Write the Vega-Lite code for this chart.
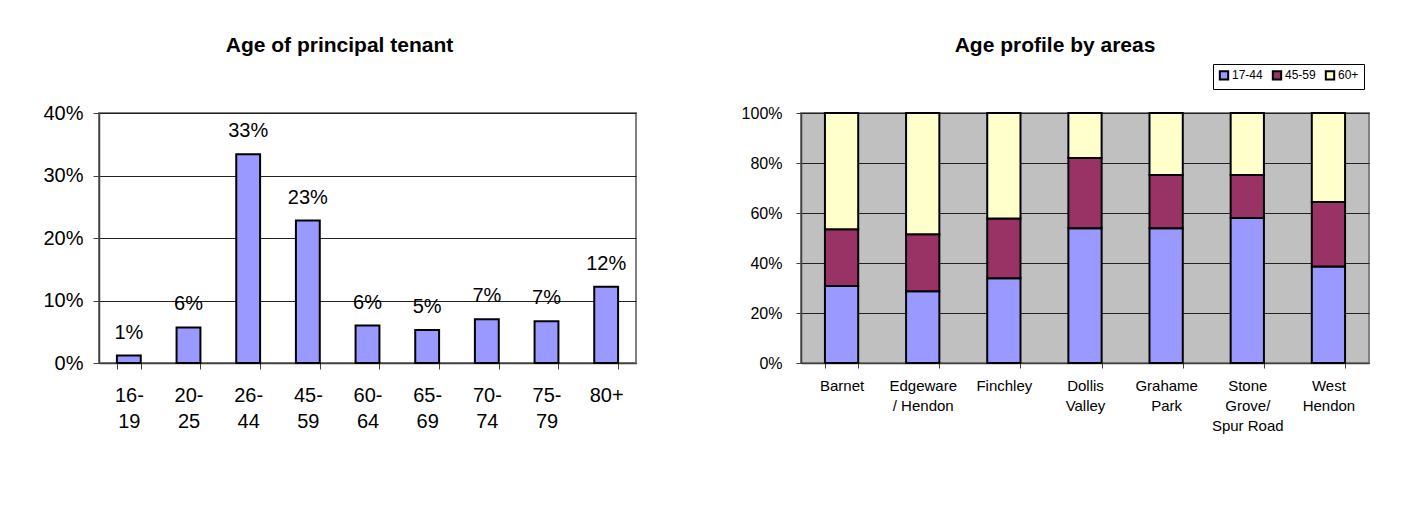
{
  "$schema": "https://vega.github.io/schema/vega-lite/v6.json",
  "background": "white",
  "padding": {"left": 41, "top": 33, "right": 5, "bottom": 5},
  "spacing": 165,
  "bounds": "flush",
  "resolve": {"scale": {"color": "independent"}, "legend": {"color": "independent"}},
  "config": {
    "font": "Liberation Sans",
    "axis": {"labelColor": "#000", "labelFont": "Liberation Sans", "title": null},
    "title": {"font": "Liberation Sans", "fontWeight": "bold", "color": "#000"}
  },
  "hconcat": [
    {
      "width": 537,
      "height": 250,
      "view": {"fill": "white", "stroke": "#808080", "strokeWidth": 2},
      "title": {"text": "Age of principal tenant", "fontSize": 21, "frame": "bounds", "anchor": "middle", "offset": 47},
      "data": {"values": [
        {"age": "16-19", "share": 0.012},
        {"age": "20-25", "share": 0.057},
        {"age": "26-44", "share": 0.334},
        {"age": "45-59", "share": 0.228},
        {"age": "60-64", "share": 0.060},
        {"age": "65-69", "share": 0.053},
        {"age": "70-74", "share": 0.070},
        {"age": "75-79", "share": 0.067},
        {"age": "80+", "share": 0.122}
      ]},
      "encoding": {
        "x": {
          "field": "age", "type": "nominal", "sort": null,
          "scale": {"paddingInner": 0.6, "paddingOuter": 0.3},
          "axis": {
            "labelAngle": 0, "tickBand": "extent", "tickSize": 6, "tickColor": "#404040",
            "domainColor": "#404040", "domainWidth": 1.5, "labelFontSize": 20,
            "labelPadding": 16, "labelLineHeight": 26,
            "labelExpr": "length(datum.label) > 3 ? [slice(datum.label, 0, 3), slice(datum.label, 3)] : datum.label"
          }
        },
        "y": {
          "field": "share", "type": "quantitative",
          "scale": {"domain": [0, 0.4]},
          "axis": {
            "values": [0, 0.1, 0.2, 0.3, 0.4], "format": ".0%", "grid": true,
            "gridColor": "#222", "gridWidth": 1, "tickSize": 6, "tickColor": "#404040",
            "domainColor": "#404040", "domainWidth": 1.5, "labelFontSize": 20, "labelPadding": 10
          }
        }
      },
      "layer": [
        {"mark": {"type": "bar", "fill": "#9999FF", "stroke": "#000", "strokeWidth": 2}},
        {
          "mark": {"type": "text", "baseline": "bottom", "dy": -13, "fontSize": 20, "color": "#000"},
          "encoding": {"text": {"field": "share", "type": "quantitative", "format": ".0%"}}
        }
      ]
    },
    {
      "width": 568,
      "height": 250,
      "view": {"fill": "#C0C0C0", "stroke": "#808080", "strokeWidth": 2},
      "title": {"text": "Age profile by areas", "fontSize": 21, "frame": "bounds", "anchor": "middle", "offset": 8},
      "data": {"values": [
        {"area": "Barnet", "age": "17-44", "pct": 30.8},
        {"area": "Barnet", "age": "45-59", "pct": 22.7},
        {"area": "Barnet", "age": "60+", "pct": 46.5},
        {"area": "Edgeware / Hendon", "age": "17-44", "pct": 28.7},
        {"area": "Edgeware / Hendon", "age": "45-59", "pct": 22.8},
        {"area": "Edgeware / Hendon", "age": "60+", "pct": 48.5},
        {"area": "Finchley", "age": "17-44", "pct": 33.9},
        {"area": "Finchley", "age": "45-59", "pct": 23.9},
        {"area": "Finchley", "age": "60+", "pct": 42.2},
        {"area": "Dollis Valley", "age": "17-44", "pct": 53.9},
        {"area": "Dollis Valley", "age": "45-59", "pct": 28.1},
        {"area": "Dollis Valley", "age": "60+", "pct": 18.0},
        {"area": "Grahame Park", "age": "17-44", "pct": 53.9},
        {"area": "Grahame Park", "age": "45-59", "pct": 21.3},
        {"area": "Grahame Park", "age": "60+", "pct": 24.8},
        {"area": "Stone Grove/ Spur Road", "age": "17-44", "pct": 58.0},
        {"area": "Stone Grove/ Spur Road", "age": "45-59", "pct": 17.2},
        {"area": "Stone Grove/ Spur Road", "age": "60+", "pct": 24.8},
        {"area": "West Hendon", "age": "17-44", "pct": 38.6},
        {"area": "West Hendon", "age": "45-59", "pct": 25.8},
        {"area": "West Hendon", "age": "60+", "pct": 35.6}
      ]},
      "mark": {"type": "bar", "stroke": "#000", "strokeWidth": 2, "opacity": 1},
      "encoding": {
        "x": {
          "field": "area", "type": "nominal", "sort": null,
          "scale": {"paddingInner": 0.59, "paddingOuter": 0.295},
          "axis": {
            "labelAngle": 0, "tickBand": "extent", "tickSize": 5, "tickColor": "#404040",
            "domainColor": "#404040", "domainWidth": 1.5, "labelFontSize": 15,
            "labelPadding": 10, "labelLineHeight": 20,
            "labelExpr": "datum.label == 'Edgeware / Hendon' ? ['Edgeware', '/ Hendon'] : datum.label == 'Stone Grove/ Spur Road' ? ['Stone', 'Grove/', 'Spur Road'] : split(datum.label, ' ')"
          }
        },
        "y": {
          "field": "pct", "type": "quantitative", "stack": "normalize",
          "axis": {
            "values": [0, 0.2, 0.4, 0.6, 0.8, 1], "format": ".0%", "grid": true,
            "gridColor": "#222", "gridWidth": 1, "tickSize": 5, "tickColor": "#404040",
            "domainColor": "#404040", "domainWidth": 1.5, "labelFontSize": 16, "labelPadding": 14
          }
        },
        "order": {"field": "age", "type": "ordinal", "sort": "ascending"},
        "color": {
          "field": "age", "type": "nominal",
          "scale": {"domain": ["17-44", "45-59", "60+"], "range": ["#9999FF", "#993366", "#FFFFCC"]},
          "legend": {
            "title": null, "orient": "none", "legendX": 412, "legendY": -49,
            "direction": "horizontal", "symbolType": "square", "symbolSize": 70,
            "symbolStrokeColor": "#000", "symbolStrokeWidth": 2, "symbolOpacity": 1,
            "labelFontSize": 12, "labelFont": "Liberation Sans", "labelColor": "#000",
            "strokeColor": "#000", "fillColor": "white", "padding": 5,
            "columnPadding": 5, "labelOffset": 2
          }
        }
      }
    }
  ]
}
